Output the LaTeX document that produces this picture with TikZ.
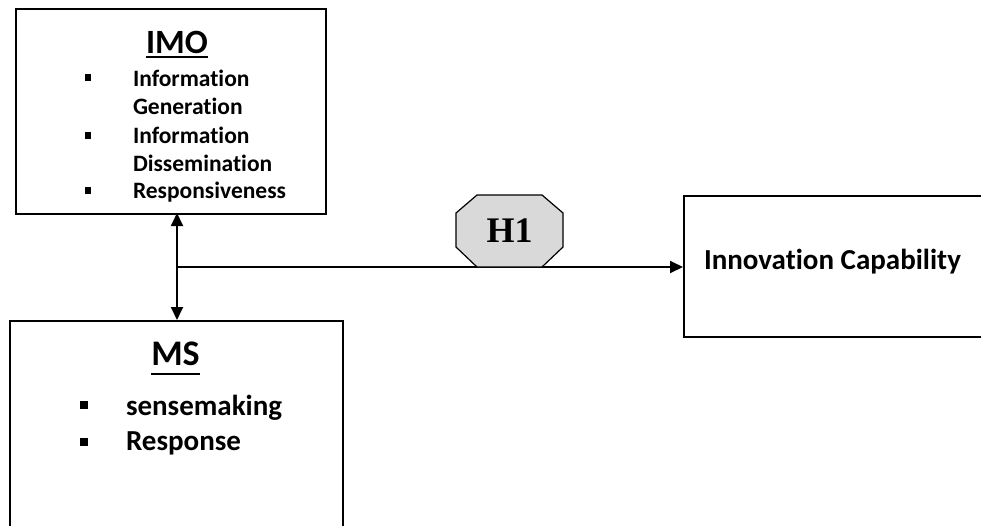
\documentclass[tikz,border=0pt]{standalone}
\usepackage{fontspec}
\setmainfont{Carlito}[Ligatures={NoCommon,NoRequired},Contextuals=NoAlternate]
\newfontfamily\hfont{Liberation Serif}
\usetikzlibrary{arrows.meta}
\tikzset{
  box/.style={draw=black, line width=1.8pt},
  lbl/.style={inner sep=0pt, outer sep=0pt, anchor=base west, font=\bfseries\fontsize{23.5pt}{23.5pt}\selectfont},
  lblbig/.style={inner sep=0pt, outer sep=0pt, anchor=base west, font=\bfseries\fontsize{29pt}{29pt}\selectfont},
  title/.style={inner sep=0pt, outer sep=0pt, anchor=base, font=\bfseries\fontsize{34pt}{34pt}\selectfont},
  bul/.style={fill=black, inner sep=0pt, minimum width=6.5pt, minimum height=6.5pt},
  bulbig/.style={fill=black, inner sep=0pt, minimum width=8pt, minimum height=8pt},
  conn/.style={line width=1.8pt, -{Triangle[length=13pt,width=12pt]}},
  dconn/.style={line width=1.8pt, {Triangle[length=13pt,width=12pt]}-{Triangle[length=13pt,width=12pt]}},
}
\begin{document}
\begin{tikzpicture}[x=1pt,y=-1pt]
\useasboundingbox (0,0) rectangle (981,525);
\clip (0,0) rectangle (981,525);
% boxes
\node[box, anchor=north west, minimum width=310pt, minimum height=205pt, inner sep=0pt] (imo) at (15,8) {};
\node[box, anchor=north west, minimum width=333pt, minimum height=230pt, inner sep=0pt] (ms) at (9,320) {};
\node[box, anchor=north west, minimum width=310pt, minimum height=141pt, inner sep=0pt] (ic) at (683,195) {};
% IMO text
\node[title] (imot) at (177,53) {IMO};
\draw[line width=1.8pt] ([yshift=-4pt]imot.base west) -- ([yshift=-4pt]imot.base east);
\node[bul] (b1) at (88,77.5) {};
\node[bul] (b2) at (88,135.5) {};
\node[bul] (b3) at (88,190.5) {};
\node[lbl] (t1) at (133,86) {Information};
\node[lbl] (t2) at (133,114) {Generation};
\node[lbl] (t3) at (133,143) {Information};
\node[lbl] (t4) at (133,171) {Dissemination};
\node[lbl] (t5) at (133,198) {Responsiveness};
% MS text
\node[title, font=\bfseries\fontsize{36pt}{36pt}\selectfont] (mst) at (175.5,365) {MS};
\draw[line width=2.4pt] ([yshift=-9pt]mst.base west) -- ([yshift=-9pt]mst.base east);
\node[bulbig] (m1) at (84,405) {};
\node[bulbig] (m2) at (84,442) {};
\node[lblbig] (s1) at (126,415) {sensemaking};
\node[lblbig] (s2) at (126,450) {Response};
% Innovation
\node[lblbig] (ict) at (704,269) {Innovation Capability};
% connectors
\coordinate (vtop) at (177,213);
\coordinate (vbot) at (177,320);
\coordinate (hstart) at (177,267);
\draw[dconn] (vtop) -- (vbot);
\draw[conn] (hstart) -- (hstart -| ic.west);
% H1 octagon
\draw[line width=1.2pt, fill=black!15] (477,195) -- (542,195) -- (563,213) -- (563,247) -- (542,267) -- (477,267) -- (456,247) -- (456,213) -- cycle;
\node[inner sep=0pt, font=\hfont\bfseries\fontsize{36pt}{36pt}\selectfont] (h1) at (509.5,231) {H1};
\end{tikzpicture}
\end{document}
